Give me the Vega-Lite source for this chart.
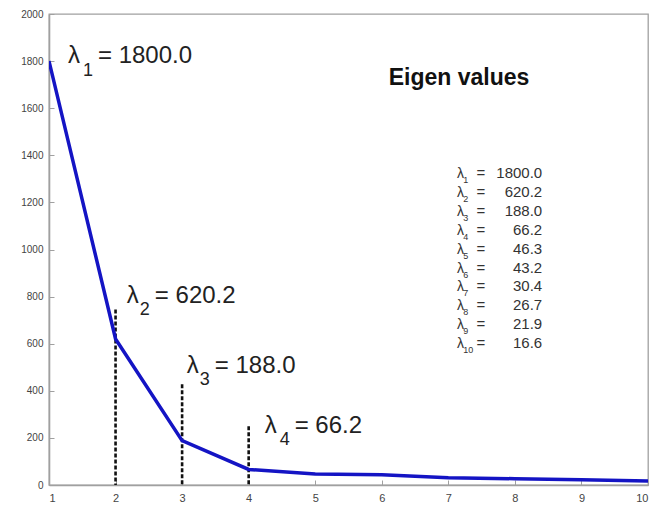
{
  "$schema": "https://vega.github.io/schema/vega-lite/v6.json",
  "width": 599,
  "height": 471,
  "padding": {"left": 49, "top": 14, "right": 3, "bottom": 24},
  "autosize": "none",
  "background": "white",
  "config": {
    "view": {"stroke": "#a0a0a0", "strokeWidth": 1.3},
    "font": "Liberation Sans",
    "text": {"font": "Liberation Sans", "color": "#222222"}
  },
  "datasets": {
    "eig": [
      {"k": 1, "value": 1800.0, "label": "1800.0"},
      {"k": 2, "value": 620.2, "label": "620.2"},
      {"k": 3, "value": 188.0, "label": "188.0"},
      {"k": 4, "value": 66.2, "label": "66.2"},
      {"k": 5, "value": 46.3, "label": "46.3"},
      {"k": 6, "value": 43.2, "label": "43.2"},
      {"k": 7, "value": 30.4, "label": "30.4"},
      {"k": 8, "value": 26.7, "label": "26.7"},
      {"k": 9, "value": 21.9, "label": "21.9"},
      {"k": 10, "value": 16.6, "label": "16.6"}
    ],
    "markers": [
      {"k": 2, "top": 745},
      {"k": 3, "top": 428},
      {"k": 4, "top": 250}
    ]
  },
  "layer": [
    {
      "data": {"name": "markers"},
      "mark": {"type": "rule", "color": "#111111", "strokeWidth": 2.6, "strokeDash": [4, 2]},
      "encoding": {
        "x": {"field": "k", "type": "quantitative"},
        "y": {"field": "top", "type": "quantitative"},
        "y2": {"datum": 0}
      }
    },
    {
      "data": {"name": "eig"},
      "mark": {"type": "line", "color": "#1414c4", "strokeWidth": 3.5, "clip": true},
      "encoding": {
        "x": {"field": "k", "type": "quantitative",
              "scale": {"domain": [1, 10], "nice": false, "zero": false},
              "axis": {"title": null, "values": [1,2,3,4,5,6,7,8,9,10], "format": "d",
                       "domainColor": "#a0a0a0", "domainWidth": 1.6, "tickColor": "#a0a0a0", "tickSize": -5,
                       "labelColor": "#444444", "labelFontSize": 11, "labelPadding": 12, "grid": false}},
        "y": {"field": "value", "type": "quantitative",
              "scale": {"domain": [0, 2000], "nice": false},
              "axis": {"title": null, "values": [0,200,400,600,800,1000,1200,1400,1600,1800,2000],
                       "format": "d", "domainColor": "#a0a0a0", "domainWidth": 1.6, "tickColor": "#a0a0a0", "tickSize": -5,
                       "labelColor": "#444444", "labelFontSize": 10, "labelPadding": 11, "grid": false}}
      }
    },
    {
      "data": {"values": [{"t": "Eigen values"}]},
      "mark": {"type": "text", "fontSize": 23, "fontWeight": "bold", "align": "center", "baseline": "alphabetic", "color": "#111111"},
      "encoding": {"x": {"datum": 7.16, "type": "quantitative"}, "y": {"datum": 1698, "type": "quantitative"}, "text": {"field": "t", "type": "nominal"}}
    },
    {
      "data": {"values": [{"s": "1", "t": "= 1800.0"}]},
      "encoding": {"x": {"datum": 1.285, "type": "quantitative"}, "y": {"datum": 1792, "type": "quantitative"}},
      "layer": [
        {"mark": {"type": "text", "text": "λ", "fontSize": 24, "align": "left", "baseline": "alphabetic"}},
        {"mark": {"type": "text", "fontSize": 18, "align": "left", "baseline": "alphabetic", "dx": 15, "dy": 13}, "encoding": {"text": {"field": "s", "type": "nominal"}}},
        {"mark": {"type": "text", "fontSize": 24, "align": "left", "baseline": "alphabetic", "dx": 30}, "encoding": {"text": {"field": "t", "type": "nominal"}}}
      ]
    },
    {
      "data": {"values": [{"s": "2", "t": "= 620.2"}]},
      "encoding": {"x": {"datum": 2.17, "type": "quantitative"}, "y": {"datum": 773, "type": "quantitative"}},
      "layer": [
        {"mark": {"type": "text", "text": "λ", "fontSize": 24, "align": "left", "baseline": "alphabetic"}},
        {"mark": {"type": "text", "fontSize": 18, "align": "left", "baseline": "alphabetic", "dx": 13, "dy": 12}, "encoding": {"text": {"field": "s", "type": "nominal"}}},
        {"mark": {"type": "text", "fontSize": 24, "align": "left", "baseline": "alphabetic", "dx": 28}, "encoding": {"text": {"field": "t", "type": "nominal"}}}
      ]
    },
    {
      "data": {"values": [{"s": "3", "t": "= 188.0"}]},
      "encoding": {"x": {"datum": 3.07, "type": "quantitative"}, "y": {"datum": 476, "type": "quantitative"}},
      "layer": [
        {"mark": {"type": "text", "text": "λ", "fontSize": 24, "align": "left", "baseline": "alphabetic"}},
        {"mark": {"type": "text", "fontSize": 18, "align": "left", "baseline": "alphabetic", "dx": 13, "dy": 12}, "encoding": {"text": {"field": "s", "type": "nominal"}}},
        {"mark": {"type": "text", "fontSize": 24, "align": "left", "baseline": "alphabetic", "dx": 28}, "encoding": {"text": {"field": "t", "type": "nominal"}}}
      ]
    },
    {
      "data": {"values": [{"s": "4", "t": "= 66.2"}]},
      "encoding": {"x": {"datum": 4.24, "type": "quantitative"}, "y": {"datum": 221, "type": "quantitative"}},
      "layer": [
        {"mark": {"type": "text", "text": "λ", "fontSize": 24, "align": "left", "baseline": "alphabetic"}},
        {"mark": {"type": "text", "fontSize": 18, "align": "left", "baseline": "alphabetic", "dx": 15, "dy": 12}, "encoding": {"text": {"field": "s", "type": "nominal"}}},
        {"mark": {"type": "text", "fontSize": 24, "align": "left", "baseline": "alphabetic", "dx": 30}, "encoding": {"text": {"field": "t", "type": "nominal"}}}
      ]
    },
    {
      "data": {"name": "eig"},
      "encoding": {
        "y": {"datum": 1303, "type": "quantitative"},
        "yOffset": {"field": "k", "type": "quantitative", "scale": {"domain": [1, 10], "range": [0, 170], "nice": false, "zero": false}}
      },
      "layer": [
        {"mark": {"type": "text", "text": "λ", "fontSize": 14, "align": "left", "baseline": "alphabetic", "color": "#333333"},
         "encoding": {"x": {"datum": 7.13, "type": "quantitative"}}},
        {"mark": {"type": "text", "fontSize": 9, "align": "left", "baseline": "alphabetic", "dy": 5, "color": "#333333"},
         "encoding": {"x": {"datum": 7.225, "type": "quantitative"}, "text": {"field": "k", "type": "nominal"}}},
        {"mark": {"type": "text", "text": "=", "fontSize": 15, "align": "left", "baseline": "alphabetic", "color": "#333333"},
         "encoding": {"x": {"datum": 7.425, "type": "quantitative"}}},
        {"mark": {"type": "text", "fontSize": 15, "align": "right", "baseline": "alphabetic", "color": "#333333"},
         "encoding": {"x": {"datum": 8.41, "type": "quantitative"}, "text": {"field": "label", "type": "nominal"}}}
      ]
    }
  ]
}
